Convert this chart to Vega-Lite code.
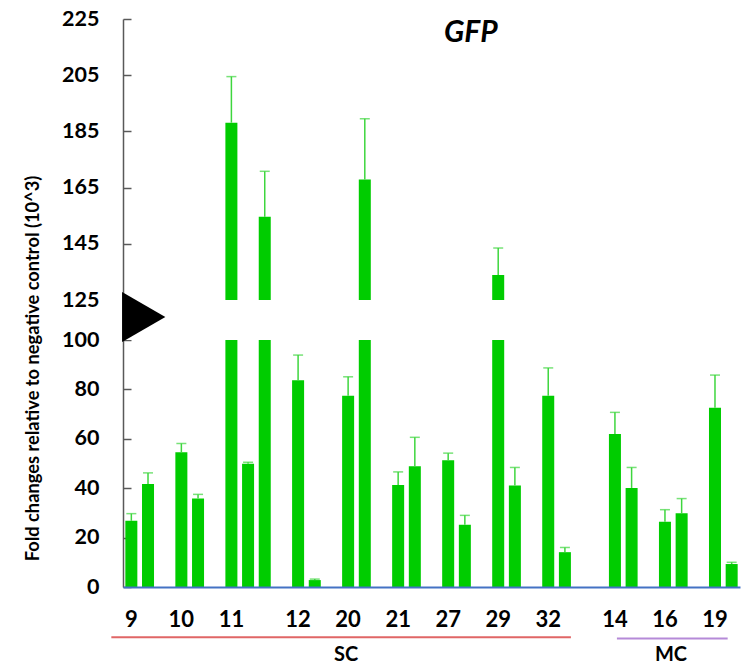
{
  "$schema": "https://vega.github.io/schema/vega-lite/v6.json",
  "width": 617,
  "height": 568,
  "autosize": {"type": "none"},
  "padding": {"left": 123, "top": 19, "right": 8, "bottom": 83},
  "background": "white",
  "config": {"view": {"stroke": null}, "font": "Lato"},
  "data": {
    "values": [
      {"id": "9a", "value": 26.8, "err": 29.7},
      {"id": "9b", "value": 41.7, "err": 46.2},
      {"id": "10a", "value": 54.6, "err": 58.1},
      {"id": "10b", "value": 35.8, "err": 37.5},
      {"id": "11a", "value": 188.1, "err": 204.5},
      {"id": "11b", "value": 49.9, "err": 50.5},
      {"id": "11c", "value": 154.6, "err": 170.8},
      {"id": "12a", "value": 83.7, "err": 93.9},
      {"id": "12b", "value": 2.8, "err": 3.2},
      {"id": "20a", "value": 77.4, "err": 85.1},
      {"id": "20b", "value": 167.9, "err": 189.5},
      {"id": "21a", "value": 41.3, "err": 46.6},
      {"id": "21b", "value": 48.9, "err": 60.6},
      {"id": "27a", "value": 51.3, "err": 54.2},
      {"id": "27b", "value": 25.2, "err": 29.0},
      {"id": "29a", "value": 133.9, "err": 143.5},
      {"id": "29b", "value": 41.1, "err": 48.4},
      {"id": "32a", "value": 77.4, "err": 88.7},
      {"id": "32b", "value": 14.1, "err": 16.0},
      {"id": "14a", "value": 61.9, "err": 70.7},
      {"id": "14b", "value": 40.1, "err": 48.4},
      {"id": "16a", "value": 26.4, "err": 31.3},
      {"id": "16b", "value": 29.9, "err": 35.8},
      {"id": "19a", "value": 72.6, "err": 85.8},
      {"id": "19b", "value": 9.3, "err": 10.0}
    ]
  },
  "layer": [
    {
      "mark": {"type": "bar", "color": "#00CC00"},
      "encoding": {
        "x": {
          "field": "id",
          "type": "nominal",
          "sort": null,
          "scale": {
            "type": "band",
            "domain": ["9a","9b","_1","10a","10b","_2","11a","11b","11c","_3","12a","12b","_4","20a","20b","_5","21a","21b","_6","27a","27b","_7","29a","29b","_8","32a","32b","_9","_10","14a","14b","_11","16a","16b","_12","19a","19b"],
            "paddingInner": 0.28,
            "paddingOuter": 0.14
          },
          "axis": {
            "title": null,
            "orient": "bottom",
            "domainColor": "#4472C4",
            "domainWidth": 2,
            "ticks": false,
            "labelAngle": 0,
            "labelPadding": 22,
            "labelFont": "Lato",
            "labelFontSize": 22,
            "labelFontWeight": "bold",
            "labelColor": "black",
            "labelExpr": "test(/a$/, datum.value) ? replace(datum.value, 'a', '') : ''",
            "zindex": 1
          }
        },
        "y": {
          "field": "value",
          "type": "quantitative",
          "scale": {"domain": [0, 100, 125, 225], "range": [568, 321, 281, 0], "nice": false, "zero": false},
          "axis": {
            "values": [0, 20, 40, 60, 80, 100, 125, 145, 165, 185, 205, 225],
            "grid": false,
            "domainColor": "#595959",
            "domainWidth": 1.5,
            "tickColor": "#595959",
            "tickWidth": 1.5,
            "tickSize": -8,
            "labelPadding": 32,
            "labelFont": "Lato",
            "labelFontSize": 21.5,
            "labelFontWeight": "bold",
            "labelColor": "black",
            "labelOverlap": false,
            "title": "Fold changes relative to negative control (10^3)",
            "titleFont": "Lato",
            "titleFontSize": 18.3,
            "titleFontWeight": "bold",
            "titleColor": "black",
            "titleX": -90,
            "titleY": 349,
            "titleAngle": 270,
            "titleAlign": "center",
            "titleBaseline": "middle"
          }
        }
      }
    },
    {
      "mark": {"type": "rule", "color": "#3ED63E", "strokeWidth": 1.5},
      "encoding": {
        "x": {"field": "id", "type": "nominal"},
        "y": {"field": "value", "type": "quantitative"},
        "y2": {"field": "err"}
      }
    },
    {
      "mark": {"type": "tick", "color": "#3ED63E", "thickness": 1.5, "size": 10},
      "encoding": {
        "x": {"field": "id", "type": "nominal"},
        "y": {"field": "err", "type": "quantitative"}
      }
    },
    {
      "data": {"values": [{}]},
      "mark": {"type": "rect", "color": "white"},
      "encoding": {
        "y": {"datum": 100, "type": "quantitative"},
        "y2": {"datum": 125}
      }
    },
    {
      "data": {"values": [{}]},
      "mark": {"type": "point", "shape": "M-0.13,-1L1.6,0L-0.13,1Z", "size": 2500, "filled": true, "color": "black", "opacity": 1},
      "encoding": {
        "x": {"datum": "9a", "type": "nominal", "bandPosition": 0},
        "y": {"datum": 114.4, "type": "quantitative"}
      }
    },
    {
      "data": {"values": [{}]},
      "mark": {"type": "text", "text": "GFP", "font": "Lato", "fontSize": 30, "fontWeight": "bold", "fontStyle": "italic", "color": "black", "baseline": "middle", "dx": 6},
      "encoding": {
        "x": {"datum": "27b", "type": "nominal"},
        "y": {"datum": 220, "type": "quantitative"}
      }
    },
    {
      "data": {"values": [{}]},
      "mark": {"type": "rule", "color": "#E06666", "strokeWidth": 2, "xOffset": -14},
      "encoding": {
        "x": {"datum": "9a", "type": "nominal", "bandPosition": 0},
        "x2": {"datum": "32b", "bandPosition": 1},
        "y": {"datum": -20.3, "type": "quantitative"}
      }
    },
    {
      "data": {"values": [{}]},
      "mark": {"type": "rule", "color": "#B58AD8", "strokeWidth": 2, "xOffset": 8, "x2Offset": 2},
      "encoding": {
        "x": {"datum": "14a", "type": "nominal", "bandPosition": 0},
        "x2": {"datum": "19b", "bandPosition": 0},
        "y": {"datum": -20.8, "type": "quantitative"}
      }
    },
    {
      "data": {"values": [{}]},
      "mark": {"type": "text", "text": "SC", "font": "Lato", "fontSize": 20, "fontWeight": "bold", "color": "black", "baseline": "middle", "dx": -2},
      "encoding": {
        "x": {"datum": "20a", "type": "nominal"},
        "y": {"datum": -27.5, "type": "quantitative"}
      }
    },
    {
      "data": {"values": [{}]},
      "mark": {"type": "text", "text": "MC", "font": "Lato", "fontSize": 20, "fontWeight": "bold", "color": "black", "baseline": "middle"},
      "encoding": {
        "x": {"datum": "16a", "type": "nominal", "bandPosition": 1},
        "y": {"datum": -27.5, "type": "quantitative"}
      }
    }
  ]
}
